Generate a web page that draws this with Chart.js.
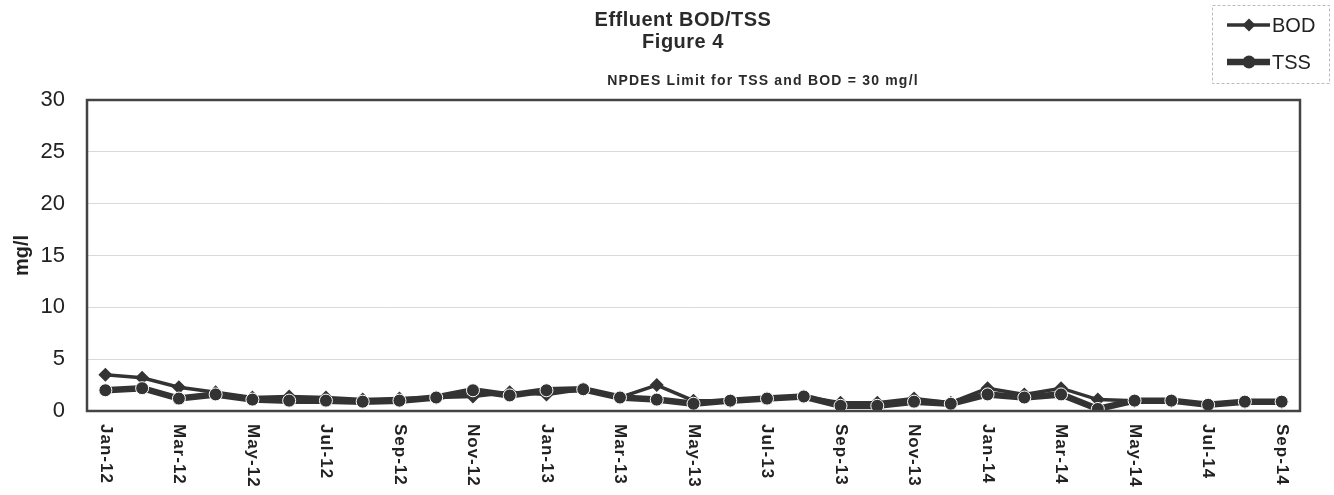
<!DOCTYPE html>
<html>
<head>
<meta charset="utf-8">
<title>Effluent BOD/TSS</title>
<script src="https://cdn.jsdelivr.net/npm/chart.js@4/dist/chart.umd.min.js"></script>
<style>
    html, body { margin: 0; padding: 0; background: #fff; }
    #wrap { width: 1334px; height: 495px; }
</style>
</head>
<body>
<div id="wrap"><canvas id="bodChart" width="1334" height="495"></canvas></div>
<script>
(function () {
    'use strict';

    // ── Data ──────────────────────────────────────────────────────────────────
    var months = ['Jan-12', 'Feb-12', 'Mar-12', 'Apr-12', 'May-12', 'Jun-12',
                  'Jul-12', 'Aug-12', 'Sep-12', 'Oct-12', 'Nov-12', 'Dec-12',
                  'Jan-13', 'Feb-13', 'Mar-13', 'Apr-13', 'May-13', 'Jun-13',
                  'Jul-13', 'Aug-13', 'Sep-13', 'Oct-13', 'Nov-13', 'Dec-13',
                  'Jan-14', 'Feb-14', 'Mar-14', 'Apr-14', 'May-14', 'Jun-14',
                  'Jul-14', 'Aug-14', 'Sep-14'];

    var bod = [3.5, 3.2, 2.3, 1.8, 1.3, 1.4, 1.3, 1.1, 1.2, 1.3, 1.4, 1.8,
               1.6, 2.1, 1.3, 2.5, 1.0, 1.0, 1.2, 1.4, 0.8, 0.8, 1.2, 0.8,
               2.2, 1.6, 2.2, 1.1, 1.0, 1.0, 0.6, 0.9, 0.9];

    var tss = [2.0, 2.2, 1.2, 1.6, 1.1, 1.0, 1.0, 0.9, 1.0, 1.3, 2.0, 1.5,
               2.0, 2.1, 1.3, 1.1, 0.7, 1.0, 1.2, 1.4, 0.5, 0.5, 0.9, 0.7,
               1.6, 1.3, 1.6, 0.2, 1.0, 1.0, 0.6, 0.9, 0.9];

    var yTicks = [0, 5, 10, 15, 20, 25, 30];

    var ink  = '#333333';
    var font = '"Liberation Sans", Arial, sans-serif';

    // ── Titles, frame, rotated month labels and legend ────────────────────────
    var decor = {
        id: 'decor',
        afterDatasetsDraw: function (chart) {
            var ctx = chart.ctx;
            var area = chart.chartArea;
            var xs = chart.scales.x;

            ctx.save();

            // plot frame
            ctx.strokeStyle = '#444';
            ctx.lineWidth = 2.5;
            ctx.strokeRect(area.left, area.top, area.right - area.left, area.bottom - area.top);

            // titles
            ctx.fillStyle = '#2a2a2a';
            ctx.textAlign = 'center';
            ctx.textBaseline = 'alphabetic';
            ctx.font = 'bold 20px ' + font;
            ctx.letterSpacing = '0.5px';
            ctx.fillText('Effluent BOD/TSS', 683, 26);
            ctx.fillText('Figure 4', 683, 48);
            ctx.font = 'bold 14px ' + font;
            ctx.letterSpacing = '1.2px';
            ctx.fillText('NPDES Limit for TSS and BOD = 30 mg/l', 763, 85);
            ctx.letterSpacing = '0px';

            // month labels, every other month, reading top to bottom
            ctx.font = 'bold 17px ' + font;
            ctx.letterSpacing = '1px';
            ctx.textAlign = 'left';
            ctx.textBaseline = 'middle';
            ctx.fillStyle = '#222';
            months.forEach(function (m, i) {
                if (i % 2 !== 0) return;
                var x = xs.getPixelForValue(i);
                ctx.save();
                ctx.translate(x, area.bottom + 13);
                ctx.rotate(Math.PI / 2);
                ctx.fillText(m, 0, 0);
                ctx.restore();
            });
            ctx.letterSpacing = '0px';

            // legend
            ctx.setLineDash([3, 2]);
            ctx.strokeStyle = '#bbb';
            ctx.lineWidth = 1;
            ctx.strokeRect(1212.5, 5.5, 117, 78);
            ctx.setLineDash([]);

            ctx.fillStyle = ink;
            ctx.strokeStyle = ink;
            // BOD sample
            ctx.lineWidth = 3.5;
            ctx.beginPath(); ctx.moveTo(1227, 25); ctx.lineTo(1270, 25); ctx.stroke();
            ctx.beginPath();
            ctx.moveTo(1249, 18.5); ctx.lineTo(1255.5, 25); ctx.lineTo(1249, 31.5); ctx.lineTo(1242.5, 25);
            ctx.closePath(); ctx.fill();
            // TSS sample
            ctx.lineWidth = 6.5;
            ctx.beginPath(); ctx.moveTo(1227, 62); ctx.lineTo(1270, 62); ctx.stroke();
            ctx.beginPath(); ctx.arc(1249, 62, 6.5, 0, Math.PI * 2); ctx.fill();

            ctx.font = '20px ' + font;
            ctx.textAlign = 'left';
            ctx.textBaseline = 'middle';
            ctx.fillStyle = '#222';
            ctx.fillText('BOD', 1272, 26);
            ctx.fillText('TSS', 1272, 63);

            ctx.restore();
        }
    };

    new Chart(document.getElementById('bodChart'), {
        type: 'line',
        data: {
            labels: months,
            datasets: [{
                label: 'BOD',
                data: bod,
                borderColor: ink,
                backgroundColor: ink,
                borderWidth: 3.5,
                pointStyle: 'rectRot',
                pointRadius: 7,
                pointBorderWidth: 0,
                tension: 0,
                order: 1
            }, {
                label: 'TSS',
                data: tss,
                borderColor: ink,
                backgroundColor: ink,
                borderWidth: 6.5,
                pointStyle: 'circle',
                pointRadius: 6.5,
                pointBorderColor: '#fff',
                pointBorderWidth: 1,
                tension: 0,
                order: 0
            }]
        },
        options: {
            responsive: false,
            animation: false,
            layout: { padding: { top: 100, right: 34, left: 0, bottom: 0 } },
            plugins: {
                legend: { display: false },
                title: { display: false },
                tooltip: { enabled: false }
            },
            scales: {
                x: {
                    offset: true,
                    grid: { display: false },
                    border: { display: false },
                    ticks: { display: false },
                    afterFit: function (scale) { scale.height = 84; }
                },
                y: {
                    min: 0,
                    max: 30,
                    afterBuildTicks: function (scale) {
                        scale.ticks = yTicks.map(function (v) { return { value: v }; });
                    },
                    grid: { color: '#d9d9d9', lineWidth: 1, drawTicks: false },
                    border: { display: false },
                    ticks: {
                        padding: 22,
                        color: '#222',
                        font: { family: font, size: 22 }
                    },
                    title: {
                        display: true,
                        text: 'mg/l',
                        color: '#222',
                        font: { family: font, size: 20, weight: 'bold' },
                        padding: { top: 10, bottom: 0 }
                    },
                    afterFit: function (scale) { scale.width = 87; }
                }
            }
        },
        plugins: [decor]
    });
})();
</script>
</body>
</html>
